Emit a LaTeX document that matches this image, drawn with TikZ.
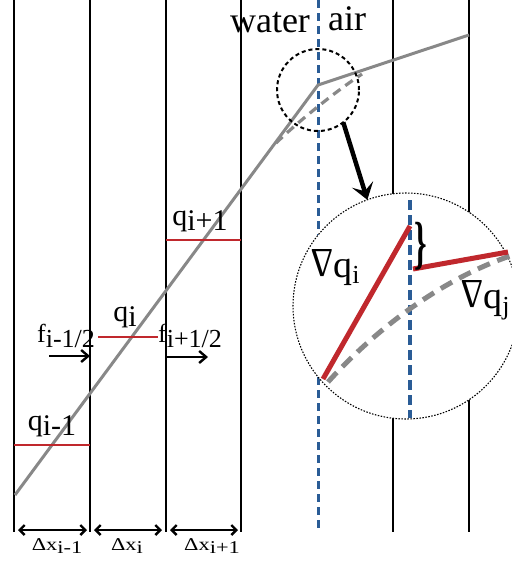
\documentclass[tikz,border=0pt]{standalone}
\usepackage{fontspec}
\setmainfont{Liberation Serif}
\usetikzlibrary{arrows.meta}
\definecolor{myblue}{RGB}{42,92,150}
\definecolor{myred}{RGB}{192,40,45}
\definecolor{mygray}{RGB}{136,136,136}
\newcommand\dn[2]{\raisebox{-#1}{#2}}
\newcommand\nab{\scalebox{0.92}[1.08]{\rotatebox[origin=c]{180}{Δ}}}
\begin{document}
\begin{tikzpicture}[x=1pt,y=-1pt,
  cell/.style={line width=2.4pt,black},
  iface/.style={myblue,line width=3pt,dash pattern=on 8pt off 5pt},
  iface2/.style={myblue,line width=3.2pt,dash pattern=on 10pt off 5pt},
  prof/.style={mygray,line width=3pt},
  profd/.style={mygray,line width=3.2pt,dash pattern=on 9pt off 6pt},
  profd2/.style={mygray,line width=5pt,dash pattern=on 13pt off 8pt},
  qbar/.style={myred,line width=2.5pt},
  grad/.style={myred,line width=5pt},
  lbl/.style={inner sep=0pt,outer sep=0pt,anchor=base},
  flux/.style={line width=2.4pt,-{Straight Barb[length=7pt,width=12pt]}},
  dimarr/.style={line width=2.4pt,{Straight Barb[length=5pt,width=10pt]}-{Straight Barb[length=5pt,width=10pt]}},
  qfont/.style={font=\fontsize{30}{32}\selectfont},
  ffont/.style={font=\fontsize{26}{28}\selectfont},
  dfont/.style={font=\fontsize{20}{22}\selectfont},
  bigfont/.style={font=\fontsize{36}{40}\selectfont},
  nfont/.style={font=\fontsize{38}{40}\selectfont}]
\useasboundingbox (0,0) rectangle (512,563);
% cell walls
\foreach \x [count=\k] in {14,90,166,241,393,469}{
  \coordinate (t\k) at (\x,0);
  \coordinate (b\k) at (\x,532);
  \draw[cell] (t\k) -- (b\k);
}
% interface
\coordinate (it) at (318,0);
\coordinate (ib) at (318,532);
\draw[iface] (it) -- (ib);
% profile
\coordinate (p0) at (15,495);
\coordinate (p1) at (318,85);
\coordinate (p2) at (469,35);
\draw[prof,line join=miter] (p0) -- (p1) -- (p2);
\coordinate (d0) at (276,143);
\coordinate (d1) at (362,74);
\draw[profd] (d0) .. controls (300,120) and (335,92) .. (d1);
% cell averages
\coordinate (qa0) at (14,445); \coordinate (qa1) at (90,445);
\coordinate (qb0) at (98,337); \coordinate (qb1) at (158,337);
\coordinate (qc0) at (166,240); \coordinate (qc1) at (241,240);
\draw[qbar] (qa0) -- (qa1);
\draw[qbar] (qb0) -- (qb1);
\draw[qbar] (qc0) -- (qc1);
\node[lbl,qfont] (lqm) at (52,430) {q\dn{5pt}{i-1}};
\node[lbl,qfont] (lq) at (125,321) {q\dn{5pt}{i}};
\node[lbl,qfont] (lqp) at (200,225) {q\dn{5pt}{i+1}};
% fluxes
\node[lbl,ffont] (lfm) at (66,342) {f\dn{5pt}{i-1/2}};
\node[lbl,ffont] (lfp) at (190,342) {f\dn{5pt}{i+1/2}};
\coordinate (fa0) at (49,356); \coordinate (fa1) at (90,356);
\coordinate (fb0) at (167,357); \coordinate (fb1) at (208,357);
\draw[flux] (fa0) -- (fa1);
\draw[flux] (fb0) -- (fb1);
% widths
\coordinate (w10) at (18,530); \coordinate (w11) at (87,530);
\coordinate (w20) at (94,530); \coordinate (w21) at (162,530);
\coordinate (w30) at (170,530); \coordinate (w31) at (238,530);
\draw[dimarr] (w10) -- (w11);
\draw[dimarr] (w20) -- (w21);
\draw[dimarr] (w30) -- (w31);
\node[lbl,dfont] (dxm) at (57,550) {\scalebox{1.12}[0.9]{Δx\dn{4pt}{i-1}}};
\node[lbl,dfont] (dx) at (127,550) {\scalebox{1.12}[0.9]{Δx\dn{4pt}{i}}};
\node[lbl,dfont] (dxp) at (212,550) {\scalebox{1.12}[0.9]{Δx\dn{4pt}{i+1}}};
% water / air
\node[lbl,bigfont] (water) at (270,32) {water};
\node[lbl,bigfont] (air) at (347,30) {air};
% small circle
\node[circle,draw,inner sep=0pt,outer sep=0pt,minimum size=82pt,line width=2pt,dash pattern=on 4pt off 3pt] (small) at (318,90) {};
% zoom circle
\node[circle,draw,fill=white,inner sep=0pt,outer sep=0pt,minimum size=226pt,line width=1.1pt,dash pattern=on 1.5pt off 1.5pt] (big) at (406,306) {};
\coordinate (zt) at (410,200);
\coordinate (zb) at (410,418);
\draw[iface2] (zt) -- (zb);
\coordinate (g0) at (328,382);
\coordinate (g1) at (510,256);
\draw[profd2] (g0) .. controls (375,330) and (440,280) .. (g1);
\coordinate (ri0) at (323,379); \coordinate (ri1) at (410,226);
\coordinate (rj0) at (413,269); \coordinate (rj1) at (508,252);
\draw[grad] (ri0) -- (ri1);
\draw[grad] (rj0) -- (rj1);
\node[inner sep=0pt] (brace) at (421,246) {\scalebox{0.55}[1]{\fontsize{58}{58}\selectfont\bfseries\}}};
\node[lbl,anchor=base west,nfont] (gi) at (311,277) {\nab q\dn{6pt}{\fontsize{26}{26}\selectfont i}};
\node[lbl,anchor=base west,nfont] (gj) at (461,308) {\nab q\dn{6pt}{\fontsize{26}{26}\selectfont j}};
% zoom arrow
\draw[line width=4.5pt,-{Stealth[length=16pt,width=22pt,inset=7pt]}] (small.-52) -- (big.110);
\end{tikzpicture}
\end{document}
